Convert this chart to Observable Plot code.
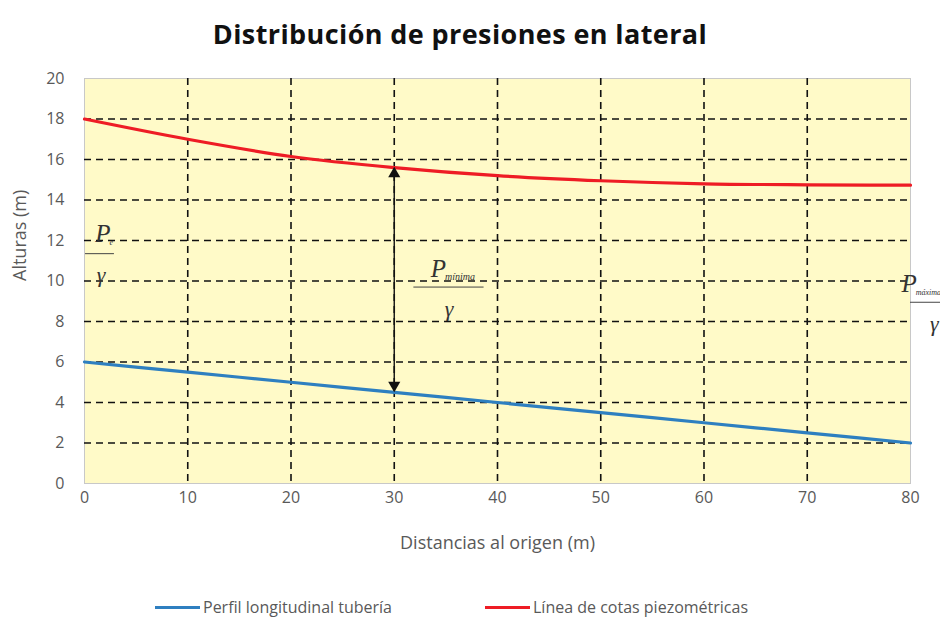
<!DOCTYPE html>
<html><head><meta charset="utf-8">
<script src="https://cdn.jsdelivr.net/npm/d3@7"></script>
<script src="https://cdn.jsdelivr.net/npm/@observablehq/plot@0.6"></script>
<style>
body{margin:0;background:#fff;font-family:"Open Sans",sans-serif;width:940px;height:621px;overflow:hidden;}
#title{height:62px;line-height:68px;text-align:center;font-weight:bold;font-size:27px;letter-spacing:0.4px;color:#111;padding-right:20px;}
#legend{position:absolute;top:596px;left:0;width:940px;font-size:16px;color:#595959;}
.item{position:absolute;display:flex;align-items:center;}
.sw{width:45px;height:3px;margin-right:3px;}
</style></head>
<body>
<div id="title">Distribución de presiones en lateral</div>
<div id="chart"></div>
<div id="legend"></div>
<script>
const distances = [0,10,20,30,40,50,60,70,80];
const tuberia = [6,5.5,5,4.5,4,3.5,3,2.5,2];
const piezo = [18,17.0,16.15,15.6,15.2,14.95,14.8,14.75,14.73];
const xTicks = [0,10,20,30,40,50,60,70,80];
const yTicks = [0,2,4,6,8,10,12,14,16,18,20];
const seriesNames = ["Perfil longitudinal tubería","Línea de cotas piezométricas"];
const seriesColors = ["#2e7fc0","#ee1c25"];
const xLabel = "Distancias al origen (m)";
const yLabel = "Alturas (m)";
// annotation: pressure arrow at x = 30
const arrowX = 30, arrowTop = 15.55, arrowBottom = 4.6;
// fraction labels
const fracs = [
  {xP:2.8, xG:1.6, xBar:1.5, yP:12.3, yBar:11.35, yG:10.3, sub:"e", subSize:8, hw:1.4},
  {xP:35.3, xG:35.3, xBar:35.3, yP:10.6, yBar:9.7, yG:8.6, sub:"mínima", subSize:10, hw:3.4},
  {xP:80.9, xG:82.3, xBar:82.4, yP:9.85, yBar:8.95, yG:7.9, sub:"máxima", subSize:8, hw:2.4}
];

const lineData = [];
distances.forEach((d,i)=>{
  lineData.push({x:d,y:tuberia[i],s:seriesNames[0]});
  lineData.push({x:d,y:piezo[i],s:seriesNames[1]});
});

const gridX = xTicks.filter(v=>v>0 && v<80);
const gridY = yTicks.filter(v=>v>0 && v<20);

const plot = Plot.plot({
  width:940, height:510,
  marginLeft:84, marginRight:30, marginTop:16, marginBottom:89,
  style:{fontFamily:"Open Sans, sans-serif", fontSize:"16px", color:"#595959", background:"transparent", overflow:"visible"},
  x:{domain:[0,80], ticks:xTicks, tickSize:0, tickPadding:8, label:null},
  y:{domain:[0,20], ticks:yTicks, tickSize:0, tickPadding:20, label:null},
  color:{domain:seriesNames, range:seriesColors},
  marks:[
    Plot.frame({fill:"#fffac8", stroke:"#c8c8c8"}),
    Plot.ruleX(gridX,{stroke:"#111", strokeWidth:1.6, strokeDasharray:"7,5"}),
    Plot.ruleY(gridY,{stroke:"#111", strokeWidth:1.6, strokeDasharray:"7,5"}),
    Plot.line(lineData,{x:"x",y:"y",stroke:"s",z:"s",strokeWidth:3.2,curve:"monotone-x"}),
    Plot.ruleX([arrowX],{y1:arrowBottom+0.35,y2:arrowTop-0.35,stroke:"#111",strokeWidth:1.4}),
    Plot.dot([{x:arrowX,y:arrowTop-0.25}],{x:"x",y:"y",symbol:"triangle",r:4.5,fill:"#111",stroke:null}),
    Plot.dot([{x:arrowX,y:arrowBottom+0.25}],{x:"x",y:"y",symbol:"triangle",r:4.5,fill:"#111",stroke:null,rotate:180}),
    Plot.text(fracs,{x:"xP",y:"yP",text:()=> "P",fontFamily:"Liberation Serif, serif",fontStyle:"italic",fontSize:25,fill:"#333",dx:-3,textAnchor:"end"}),
    Plot.text(fracs,{x:"xP",y:"yP",text:"sub",fontFamily:"Liberation Serif, serif",fontStyle:"italic",fontSize:d=>d.subSize,fill:"#333",dx:-4,dy:8,textAnchor:"start"}),
    Plot.text(fracs,{x:"xG",y:"yG",text:()=> "γ",fontFamily:"Liberation Serif, serif",fontStyle:"italic",fontSize:22,fill:"#333"}),
    Plot.ruleY(fracs,{y:"yBar",x1:d=>d.xBar-d.hw,x2:d=>d.xBar+d.hw,stroke:"#444",strokeWidth:1}),
    Plot.text([xLabel],{frameAnchor:"bottom",dy:65,fontSize:18,fill:"#595959"}),
    Plot.text([yLabel],{frameAnchor:"left",dx:-64,rotate:-90,fontSize:18,fill:"#595959"})
  ]
});
document.getElementById("chart").appendChild(plot);

const leg = document.getElementById("legend");
const pos = [155,485];
seriesNames.forEach((n,i)=>{
  const it = document.createElement("div");
  it.className="item"; it.style.left=pos[i]+"px";
  it.innerHTML = `<div class="sw" style="background:${seriesColors[i]}"></div><span>${n}</span>`;
  leg.appendChild(it);
});
</script>
</body></html>
